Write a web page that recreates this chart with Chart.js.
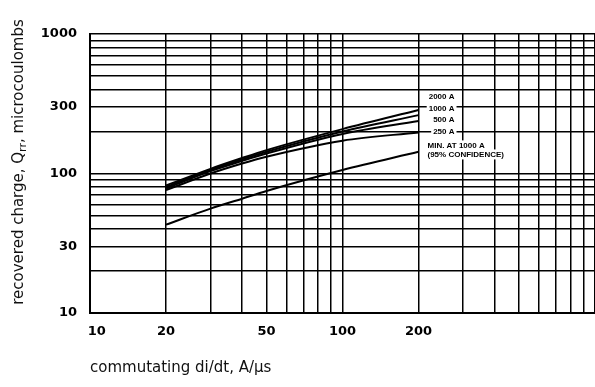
<!DOCTYPE html>
<html>
<head>
<meta charset="utf-8">
<script src="https://cdn.jsdelivr.net/npm/chart.js"></script>
<style>
  body { margin: 0; background: #fff; }
  #wrap { width: 595px; height: 387px; }
</style>
</head>
<body>
<div id="wrap"><canvas id="qrrChart" width="595" height="387"></canvas></div>
<script>
// ---- data ----
const diDt = [20, 30, 40, 50, 100, 200];

const q2000 = [82, 108, 129, 147, 208, 285];
const q1000 = [80, 106, 126, 143, 200, 262];
const q500  = [78, 104, 123, 139, 192, 238];
const q250  = [76, 100, 118, 132, 172, 197];
const qMin  = [43, 56, 66, 75, 106, 143];

const seriesNames = ['2000 A', '1000 A', '500 A', '250 A', 'MIN. AT 1000 A'];

// grid + tick labels
const xGrid = [10, 20, 30, 40, 50, 60, 70, 80, 90, 100, 200, 300, 400, 500, 600, 700, 800, 900, 1000];
const yGrid = [10, 20, 30, 40, 50, 60, 70, 80, 90, 100, 200, 300, 400, 500, 600, 700, 800, 900, 1000];
const xTickLabels = [10, 20, 50, 100, 200];
const yTickLabels = [10, 30, 100, 300, 1000];

// curve labels next to the 200 A/us end
const curveLabels = ['2000 A', '1000 A', '500 A', '250 A', 'MIN. AT 1000 A', '(95% CONFIDENCE)'];
const curveLabelY = [353, 290, 244, 200, 159, 137];

const toPoints = arr => arr.map((v, i) => ({ x: diDt[i], y: v }));

// label plugin: curve names + rotated y title with subscript
const labelsPlugin = {
    id: 'curveLabels',
    afterDatasetsDraw(chart) {
        const ctx = chart.ctx;
        const xs = chart.scales.x;
        const ys = chart.scales.y;
        const x200 = xs.getPixelForValue(200);

        ctx.save();
        ctx.font = 'bold 8px "Liberation Sans", Arial, sans-serif';
        ctx.textBaseline = 'middle';
        curveLabels.forEach((t, i) => {
            const y = ys.getPixelForValue(curveLabelY[i]);
            const w = ctx.measureText(t).width;
            let left;
            if (i < 4) left = x200 + 36 - w;   // right aligned group
            else left = x200 + 9;
            ctx.fillStyle = '#fff';
            ctx.fillRect(left - 2, y - 5, w + 4, 10);
            ctx.fillStyle = '#000';
            ctx.textAlign = 'left';
            ctx.fillText(t, left, y);
        });
        ctx.restore();
    },
    afterDraw(chart) {
        const ctx = chart.ctx;
        const parts = [
            { t: 'recovered charge, Q', f: '15px "DejaVu Sans", sans-serif', dy: 0 },
            { t: 'rr', f: '11px "DejaVu Sans", sans-serif', dy: 4 },
            { t: ', microcoulombs', f: '15px "DejaVu Sans", sans-serif', dy: 0 }
        ];
        ctx.save();
        let total = 0;
        parts.forEach(p => { ctx.font = p.f; p.w = ctx.measureText(p.t).width; total += p.w; });
        ctx.translate(19, 162);
        ctx.rotate(-Math.PI / 2);
        ctx.fillStyle = '#111';
        ctx.textBaseline = 'middle';
        ctx.textAlign = 'left';
        let pos = -total / 2;
        parts.forEach(p => {
            ctx.font = p.f;
            ctx.fillText(p.t, pos, p.dy);
            pos += p.w;
        });
        ctx.restore();
    }
};

const gridOpts = {
    color: '#000',
    lineWidth: 1.5,
    drawTicks: false
};

new Chart(document.getElementById('qrrChart'), {
    type: 'line',
    data: {
        datasets: [
            { label: seriesNames[0], data: toPoints(q2000) },
            { label: seriesNames[1], data: toPoints(q1000) },
            { label: seriesNames[2], data: toPoints(q500) },
            { label: seriesNames[3], data: toPoints(q250) },
            { label: seriesNames[4], data: toPoints(qMin) }
        ].map(d => ({
            ...d,
            borderColor: '#000',
            borderWidth: 2,
            pointRadius: 0,
            fill: false,
            cubicInterpolationMode: 'monotone'
        }))
    },
    options: {
        responsive: false,
        animation: false,
        layout: { padding: { top: 34, left: 0, right: 0, bottom: 0 } },
        plugins: {
            legend: { display: false },
            tooltip: { enabled: false }
        },
        scales: {
            x: {
                type: 'logarithmic',
                min: 10,
                max: 1000,
                afterBuildTicks: s => { s.ticks = xGrid.map(v => ({ value: v })); },
                afterFit: s => { s.height = 74; s.paddingRight = 0; s.paddingLeft = 0; },
                grid: gridOpts,
                border: { color: '#000', width: 2 },
                ticks: {
                    autoSkip: false,
                    maxRotation: 0,
                    padding: 11,
                    color: '#000',
                    font: { family: '"DejaVu Sans", sans-serif', size: 13, weight: 'bold' },
                    callback: v => {
                        if (!xTickLabels.includes(v)) return '';
                        return v === 10 ? '   10' : String(v);
                    }
                },
                title: {
                    display: true,
                    text: 'commutating di/dt, A/\u03bcs',
                    align: 'start',
                    color: '#111',
                    font: { family: '"DejaVu Sans", sans-serif', size: 15 },
                    padding: { top: 0, bottom: 10 }
                }
            },
            y: {
                type: 'logarithmic',
                min: 10,
                max: 1000,
                afterBuildTicks: s => { s.ticks = yGrid.map(v => ({ value: v })); },
                afterFit: s => { s.width = 90; },
                grid: gridOpts,
                border: { color: '#000', width: 2 },
                ticks: {
                    autoSkip: false,
                    padding: 13,
                    color: '#000',
                    font: { family: '"DejaVu Sans", sans-serif', size: 13, weight: 'bold' },
                    callback: v => yTickLabels.includes(v) ? String(v) : ''
                }
            }
        }
    },
    plugins: [labelsPlugin]
});
</script>
</body>
</html>
